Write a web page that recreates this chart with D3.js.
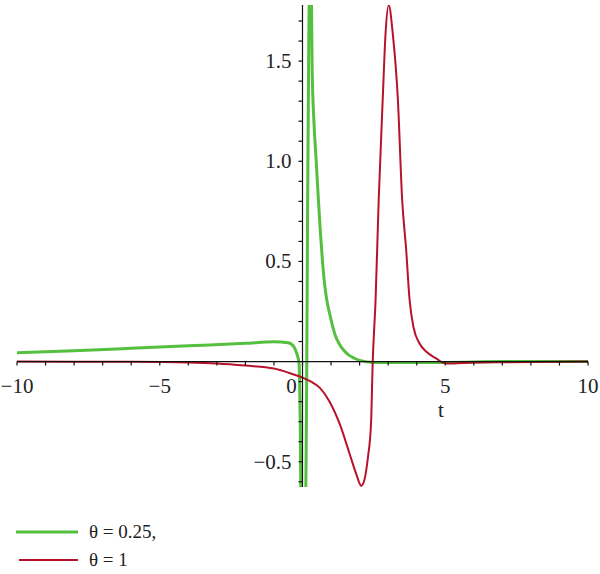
<!DOCTYPE html>
<html lang="en">
<head>
<meta charset="utf-8">
<title>theta plot</title>
<script src="https://cdn.jsdelivr.net/npm/d3@7"></script>
<style>
  body { margin: 0; background: #fff; }
  text { font-family: "Liberation Serif", "DejaVu Serif", serif; fill: #222; }
</style>
</head>
<body>
<svg id="chart" width="600" height="574"></svg>
<script>
// values
let xTicksMajor = [-10, -5, 0, 5, 10];
let xTickLabels = ["−10", "−5", "0", "5", "10"];
let yTicksMajor = [-0.5, 0.5, 1.0, 1.5];
let yTickLabels = ["−0.5", "0.5", "1.0", "1.5"];

// θ = 0.25
let greenT = [-10, -8, -6, -4, -2, -1, -0.5, -0.3, -0.2, -0.12, -0.08, -0.04,
              0.1, 0.15, 0.18, 0.22, 0.26, 0.3, 0.34, 0.4, 0.48, 0.56, 0.62, 0.7,
              0.78, 0.86, 0.95, 1.05, 1.15, 1.3, 1.45, 1.6, 1.8, 2.0, 2.5, 5, 7, 10];
let greenY = [0.044, 0.054, 0.066, 0.079, 0.091, 0.099, 0.094, 0.074, 0.04, -0.01, -0.3, -0.9,
              -0.9, 0.0, 0.8, 1.6, 1.9, 1.9, 1.45, 1.2, 1.0, 0.8, 0.66, 0.5,
              0.38, 0.3, 0.24, 0.18, 0.13, 0.085, 0.055, 0.035, 0.018, 0.006, -0.004, -0.004, 0, 0];

// θ = 1
let redT = [-10, -6, -4, -3, -2, -1, -0.5, 0, 0.3, 0.6, 0.95, 1.3, 1.65, 1.88, 2.06, 2.17,
            2.29, 2.4, 2.46, 2.56, 2.67, 2.81, 2.91, 3.02, 3.16, 3.34, 3.49, 3.63,
            3.75, 3.89, 4.1, 4.33, 4.68, 5.03, 6, 7, 10];
let redY = [0, -0.001, -0.004, -0.009, -0.02, -0.035, -0.055, -0.08, -0.1, -0.13, -0.2, -0.31, -0.46, -0.56, -0.62, -0.59,
            -0.48, -0.31, 0.0, 0.31, 0.81, 1.31, 1.64, 1.78, 1.64, 1.31, 0.81, 0.56,
            0.31, 0.17, 0.09, 0.05, 0.016, -0.01, -0.005, -0.003, 0];

let legendLabels = ["θ = 0.25,", "θ = 1"];
let colors = ["#55bf40", "#b8122b"];

let svg = d3.select('#chart');
let x = d3.scaleLinear().domain([-10, 10]).range([17, 588]);
let y = d3.scaleLinear().domain([-0.626, 1.78]).range([487, 5]);

svg.append('clipPath').attr('id', 'clip')
    .append('rect')
    .attr('x', x(-10)).attr('y', y(1.78))
    .attr('width', x(10) - x(-10)).attr('height', y(-0.626) - y(1.78));

let plot = svg.append('g').attr('clip-path', 'url(#clip)');

function draw_series(ts, ys, color, width){
    let pts = ts.map((t, i) => ({t: t, v: ys[i]}));
    let line = d3.line()
        .x(d => x(d.t))
        .y(d => y(d.v))
        .curve(d3.curveMonotoneX);
    plot.append('path')
        .datum(pts)
        .attr('fill', 'none')
        .attr('stroke', color)
        .attr('stroke-width', width)
        .attr('stroke-linejoin', 'round')
        .attr('d', line);
}

// axes through the origin
let axes = svg.append('g').attr('stroke', '#111').attr('stroke-width', 1.2);
axes.append('line')
    .attr('x1', x(-10)).attr('x2', x(10))
    .attr('y1', y(0)).attr('y2', y(0));
axes.append('line')
    .attr('x1', x(0)).attr('x2', x(0))
    .attr('y1', y(1.78)).attr('y2', y(-0.626));

// x ticks every 1
axes.selectAll('.xt').data(d3.range(-10, 11, 1)).enter()
    .append('line')
    .attr('x1', d => x(d)).attr('x2', d => x(d))
    .attr('y1', y(0)).attr('y2', y(0) + 4);

// y ticks every 0.1
let yMinor = d3.range(-6, 18).map(k => k / 10).filter(v => v !== 0);
axes.selectAll('.yt').data(yMinor).enter()
    .append('line')
    .attr('x1', x(0) - 4).attr('x2', x(0))
    .attr('y1', d => y(d)).attr('y2', d => y(d));

draw_series(greenT, greenY, colors[0], 3);
draw_series(redT, redY, colors[1], 2);

// tick labels
svg.selectAll('.xl').data(xTicksMajor).enter()
    .append('text')
    .attr('x', d => x(d) + (d === 0 ? -11 : 0))
    .attr('y', y(0) + 31)
    .attr('text-anchor', 'middle')
    .attr('font-size', 21)
    .text((d, i) => xTickLabels[i]);

svg.selectAll('.yl').data(yTicksMajor).enter()
    .append('text')
    .attr('x', x(0) - 11)
    .attr('y', d => y(d) + 7)
    .attr('text-anchor', 'end')
    .attr('font-size', 21)
    .text((d, i) => yTickLabels[i]);

svg.append('text')
    .attr('x', 441).attr('y', 417)
    .attr('text-anchor', 'middle')
    .attr('font-size', 21)
    .text('t');

// legend
let legend = svg.append('g');
legendLabels.forEach((lab, i) => {
    let ly = 532 + i * 28;
    legend.append('line')
        .attr('x1', 16 + i * 3).attr('x2', 78)
        .attr('y1', ly).attr('y2', ly)
        .attr('stroke', colors[i])
        .attr('stroke-width', i === 0 ? 3 : 2);
    legend.append('text')
        .attr('x', 89).attr('y', ly + 6)
        .attr('font-size', 19)
        .text(lab);
});
</script>
</body>
</html>
